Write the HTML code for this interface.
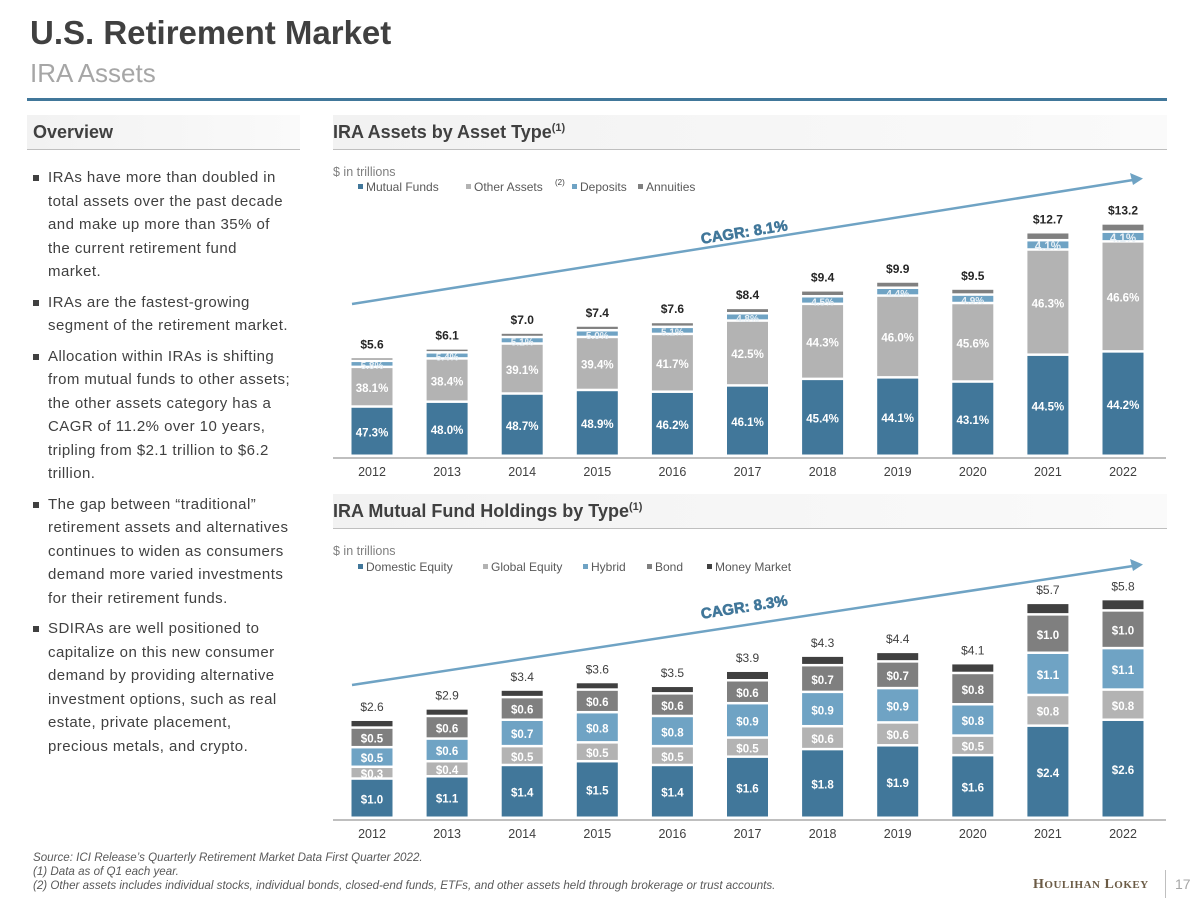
<!DOCTYPE html>
<html><head><meta charset="utf-8"><style>
body{margin:0;width:1200px;height:900px;background:#fff;font-family:"Liberation Sans",sans-serif;position:relative;overflow:hidden;color:#404040}
.abs{position:absolute}
.hdr{position:absolute;height:34px;background:linear-gradient(90deg,#f2f2f2,#fafafa);border-bottom:1px solid #bfbfbf;font-weight:bold;font-size:18px;color:#404040;line-height:34px}
ul{margin:0;padding:0;list-style:none}
li{position:relative;padding-left:15px;font-size:15px;line-height:23.5px;margin-bottom:7px;letter-spacing:0.45px}
li:before{content:"";position:absolute;left:0;top:9px;width:6px;height:6px;background:#404040}
.foot{font-style:italic;font-size:11.6px;color:#595959;line-height:14px}
</style></head><body>
<div class="abs" style="left:30px;top:14px;font-size:33px;font-weight:bold;color:#404040">U.S. Retirement Market</div>
<div class="abs" style="left:30px;top:58px;font-size:26px;color:#a6a6a6">IRA Assets</div>
<div class="abs" style="left:27px;top:98px;width:1140px;height:3px;background:#41779a"></div>
<div class="hdr" style="left:27px;top:115px;width:267px;padding-left:6px">Overview</div>
<div class="hdr" style="left:333px;top:115px;width:834px">IRA Assets by Asset Type<sup style="font-size:11px;line-height:0">(1)</sup></div>
<div class="hdr" style="left:333px;top:494px;width:834px">IRA Mutual Fund Holdings by Type<sup style="font-size:11px;line-height:0">(1)</sup></div>
<ul class="abs" style="left:33px;top:166px;width:260px">
<li>IRAs have more than doubled in total assets over the past decade and make up more than 35% of the current retirement fund market.</li>
<li>IRAs are the fastest-growing segment of the retirement market.</li>
<li>Allocation within IRAs is shifting from mutual funds to other assets; the other assets category has a CAGR of 11.2% over 10 years, tripling from $2.1 trillion to $6.2 trillion.</li>
<li>The gap between “traditional” retirement assets and alternatives continues to widen as consumers demand more varied investments for their retirement funds.</li>
<li>SDIRAs are well positioned to capitalize on this new consumer demand by providing alternative investment options, such as real estate, private placement, precious metals, and crypto.</li>
</ul>
<div class="abs foot" style="left:33px;top:851px">Source: ICI Release’s Quarterly Retirement Market Data First Quarter 2022.<br>(1) Data as of Q1 each year.<br>(2) Other assets includes individual stocks, individual bonds, closed-end funds, ETFs, and other assets held through brokerage or trust accounts.</div>
<div class="abs" style="left:1033px;top:877px;font-family:'Liberation Serif',serif;font-weight:bold;font-size:14px;color:#6b5b45;letter-spacing:0.5px">H<span style="font-size:11px">OULIHAN</span> L<span style="font-size:11px">OKEY</span></div>
<div class="abs" style="left:1165px;top:870px;width:1px;height:28px;background:#bfbfbf"></div>
<div class="abs" style="left:1175px;top:876px;font-size:14px;color:#a6a6a6">17</div>
<svg id="chart" class="abs" style="left:0;top:0" width="1200" height="900"></svg>
<script>
const years=['2012','2013','2014','2015','2016','2017','2018','2019','2020','2021','2022'];
const totals1=[5.6,6.1,7.0,7.4,7.6,8.4,9.4,9.9,9.5,12.7,13.2];
const mutualPct=[47.3,48.0,48.7,48.9,46.2,46.1,45.4,44.1,43.1,44.5,44.2];
const otherPct=[38.1,38.4,39.1,39.4,41.7,42.5,44.3,46.0,45.6,46.3,46.6];
const depositPct=[5.8,5.4,5.1,5.0,5.1,4.8,4.5,4.4,4.9,4.1,4.1];
const annuityPct=[3.5,3.5,3.5,3.5,3.5,3.5,3.5,3.5,3.5,3.5,3.5];
const totals2=[2.6,2.9,3.4,3.6,3.5,3.9,4.3,4.4,4.1,5.7,5.8];
const domestic=[1.0,1.1,1.4,1.5,1.4,1.6,1.8,1.9,1.6,2.4,2.6];
const globalEq=[0.3,0.4,0.5,0.5,0.5,0.5,0.6,0.6,0.5,0.8,0.8];
const hybrid=[0.5,0.6,0.7,0.8,0.8,0.9,0.9,0.9,0.8,1.1,1.1];
const bond=[0.5,0.6,0.6,0.6,0.6,0.6,0.7,0.7,0.8,1.0,1.0];
const moneyMkt=[0.2,0.2,0.2,0.2,0.2,0.25,0.25,0.25,0.25,0.3,0.3];
const cagr1='CAGR: 8.1%', cagr2='CAGR: 8.3%';
const svg=document.getElementById('chart');
const NS='http://www.w3.org/2000/svg';
function mk(tag,attrs,name,parent){const e=document.createElementNS(NS,tag);for(const k in attrs)e.setAttribute(k,attrs[k]);


(parent||svg).appendChild(e);return e;}
function txt(x,y,s,name,o){const t=mk('text',Object.assign({x:x,y:y,'text-anchor':'middle','font-family':'Liberation Sans, sans-serif','font-size':12,fill:'#404040'},o||{}),name);t.textContent=s;return t;}
const xc=i=>372+i*75.1;
const BW=41;
function chart(cfg){
  const y=v=>cfg.base-v*cfg.scale;
  mk('line',{x1:333,x2:1166,y1:cfg.base+1,y2:cfg.base+1,stroke:'#bfbfbf','stroke-width':2},cfg.id+'-x-axis');
  txt(333,cfg.unitY,'$ in trillions',cfg.id+'-unit-label',{'text-anchor':'start','font-size':12.5,fill:'#7f7f7f'});
  let lx=358;
  cfg.series.forEach((s,k)=>{
    mk('rect',{x:lx,y:cfg.legY-7,width:5,height:5,fill:s.color},cfg.id+'-legend-swatch');
    txt(lx+8,cfg.legY,s.name,cfg.id+'-legend-entry',{'text-anchor':'start','font-size':12,fill:'#595959'});
    if(s.sup)txt(lx+8+s.name.length*6.5+3,cfg.legY-6,'(2)',cfg.id+'-legend-sup',{'font-size':8,'text-anchor':'start'});
    lx+=cfg.legStep[k];
  });
  years.forEach((yr,i)=>{
    const tot=cfg.totals[i];const vals=cfg.series.map(s=>s.vals[i]);const sum=vals.reduce((a,b)=>a+b,0);
    let acc=0;
    vals.forEach((v,k)=>{
      const val=v/sum*tot;const y0=y(acc),y1=y(acc+val);acc+=val;
      const s=cfg.series[k];
      mk('rect',{x:xc(i)-BW/2,y:y1,width:BW,height:Math.max(1,y0-y1-2.5),fill:s.color},cfg.id+'-bar-'+s.key+'-'+yr);
      if(s.label){const h=y0-y1;
        txt(xc(i),(y0+y1)/2+4,s.label(v),cfg.id+'-value-'+s.key+'-'+yr,{fill:s.lc||'#fff','font-weight':'bold','font-size':h<9?10:11.5});}
    });
    txt(xc(i),y(tot)-10,'$'+tot.toFixed(1),cfg.id+'-total-'+yr,{'font-weight':cfg.boldTot?'bold':'normal','font-size':12,fill:cfg.boldTot?'#262626':'#404040'});
    txt(xc(i),cfg.base+19,yr,cfg.id+'-year-'+yr,{'font-size':12.5,fill:'#404040'});
  });
  mk('line',{x1:352,y1:cfg.a[0],x2:1133,y2:cfg.a[1],stroke:'#6fa3c4','stroke-width':2.5},cfg.id+'-cagr-arrow');
  mk('path',{d:`M1143 ${cfg.a[1]-1.5} L1130 ${cfg.a[1]-7} L1133 ${cfg.a[1]+5} Z`,fill:'#6fa3c4'},cfg.id+'-arrow-head');
  txt(745,cfg.a[2],cfg.cagr,cfg.id+'-cagr-label',{'font-weight':'bold','font-size':15,fill:'#41779a',stroke:'#41779a','stroke-width':0.6,transform:`rotate(-9 745 ${cfg.a[2]})`});
}
const pct=v=>v.toFixed(1)+'%', usd=v=>'$'+v.toFixed(1);
chart({id:'asset-type',base:457,scale:17.6,totals:totals1,unitY:176,legY:191,legStep:[108,106,66,70],boldTot:true,
  a:[304,180,237],cagr:cagr1,
  series:[{key:'mutual',name:'Mutual Funds',color:'#41779a',vals:mutualPct,label:pct},
  {key:'other',name:'Other Assets',sup:true,color:'#b3b3b3',vals:otherPct,label:pct},
  {key:'deposits',name:'Deposits',color:'#6fa3c4',vals:depositPct,label:pct,lc:'#e8f0f6'},
  {key:'annuities',name:'Annuities',color:'#808080',vals:annuityPct}]});
chart({id:'mf-type',base:819,scale:37.7,totals:totals2,unitY:555,legY:571,legStep:[125,100,64,60,90],boldTot:false,
  a:[685,566,612],cagr:cagr2,
  series:[{key:'domestic',name:'Domestic Equity',color:'#41779a',vals:domestic,label:usd},
  {key:'global',name:'Global Equity',color:'#b3b3b3',vals:globalEq,label:usd},
  {key:'hybrid',name:'Hybrid',color:'#6fa3c4',vals:hybrid,label:usd},
  {key:'bond',name:'Bond',color:'#7f7f7f',vals:bond,label:usd},
  {key:'money',name:'Money Market',color:'#404040',vals:moneyMkt}]});
</script>
</body></html>
